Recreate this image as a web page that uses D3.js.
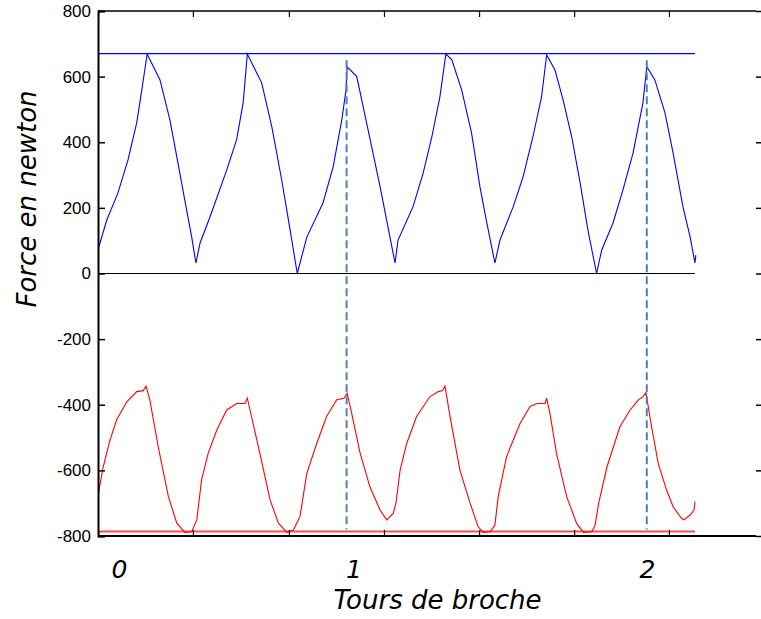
<!DOCTYPE html>
<html>
<head>
<meta charset="utf-8">
<script src="https://cdn.jsdelivr.net/npm/d3@7"></script>
<style>
  html, body { margin: 0; padding: 0; background: #fff; }
  svg { display: block; }
</style>
</head>
<body>
<script>
// ---- data (x in spindle turns, y in newtons) ----
const blueTurns = [0.172,0.200,0.237,0.271,0.300,0.317,0.335,0.378,0.411,0.438,0.467,0.484,0.498,0.512,0.545,0.601,0.634,0.656,0.670,0.718,0.752,0.785,0.813,0.837,0.869,0.923,0.957,0.986,1.000,1.004,1.036,1.074,1.114,1.147,1.164,1.174,1.224,1.258,1.287,1.314,1.334,1.354,1.387,1.420,1.448,1.471,1.498,1.515,1.559,1.592,1.625,1.654,1.671,1.699,1.726,1.755,1.783,1.809,1.838,1.855,1.893,1.926,1.960,1.993,2.006,2.033,2.067,2.094,2.127,2.151,2.167,2.170];
const blueForce = [77,163,245,346,459,559,669,590,468,337,193,111,32,93,172,315,407,520,669,581,447,285,133,0,111,215,325,468,559,630,600,437,265,111,32,102,203,306,416,538,669,651,559,428,264,154,32,102,203,294,416,538,666,620,529,416,276,133,0,71,154,254,367,520,630,590,489,367,203,111,32,56];

const redTurns = [0.172,0.188,0.211,0.233,0.267,0.300,0.322,0.331,0.344,0.372,0.406,0.434,0.462,0.484,0.501,0.517,0.539,0.568,0.601,0.634,0.662,0.670,0.679,0.712,0.746,0.774,0.802,0.824,0.846,0.869,0.902,0.935,0.969,0.993,1.004,1.019,1.047,1.080,1.114,1.136,1.158,1.167,1.181,1.203,1.236,1.281,1.309,1.323,1.331,1.348,1.381,1.415,1.442,1.459,1.482,1.498,1.509,1.537,1.582,1.615,1.638,1.666,1.671,1.682,1.704,1.738,1.771,1.794,1.822,1.833,1.845,1.873,1.916,1.950,1.978,1.993,2.003,2.022,2.044,2.072,2.094,2.122,2.130,2.151,2.164,2.167];
const redForce = [-670,-589,-507,-446,-391,-360,-357,-343,-385,-528,-680,-761,-789,-787,-751,-629,-548,-477,-416,-396,-396,-380,-416,-548,-690,-761,-789,-782,-741,-609,-518,-436,-385,-380,-365,-426,-547,-650,-721,-751,-731,-700,-599,-518,-436,-375,-360,-357,-343,-436,-599,-700,-772,-789,-787,-767,-680,-558,-457,-406,-396,-396,-380,-426,-548,-680,-761,-789,-787,-767,-700,-589,-467,-416,-385,-376,-363,-467,-578,-660,-711,-746,-751,-736,-721,-695];

const refLevels = [670, 0, -786];          // blue max, zero, red min
const refEnd = 2.167;                       // reference lines end (turns)
const markerTurns = [1.002, 2.006];         // dashed vertical markers
const markerRange = [650, -780];
const yTicks = [800,600,400,200,0,-200,-400,-600,-800];
const xTicks = [0.171,0.488,0.809,1.127,1.445,1.763,2.080];
const xLabels = [0, 1, 2];
const xLabelTurns = [0.2425, 1.027, 2.008];
const yTitle = "Force en newton";
const xTitle = "Tours de broche";

// ---- layout ----
const W = 761, H = 619;
const L = 98, R = 756, T = 11, B = 536;

const svg = d3.select("body").append("svg").attr("width", W).attr("height", H);

const x = d3.scaleLinear().domain([0.1706, 2.3712]).range([L, R]);
const y = d3.scaleLinear().domain([-800, 800]).range([B, T]);
const labelPos = d3.scaleLinear().domain(xLabels).range(xLabelTurns);

// reference horizontal lines
const refColors = ["#0000ff", "#000000", "#ff4d4d"];
const refWidths = [1.2, 1.2, 2];
svg.selectAll("line.ref").data(refLevels).enter().append("line")
  .attr("class", "ref")
  .attr("x1", x(0.1706)).attr("x2", x(refEnd))
  .attr("y1", d => y(d)).attr("y2", d => y(d))
  .attr("stroke", (d, i) => refColors[i])
  .attr("stroke-width", (d, i) => refWidths[i]);

// curves
const line = d3.line().x(d => x(d[0])).y(d => y(d[1]));
svg.append("path").datum(d3.zip(blueTurns, blueForce))
  .attr("d", line).attr("fill", "none").attr("stroke", "#0000ff").attr("stroke-width", 1.1);
svg.append("path").datum(d3.zip(redTurns, redForce))
  .attr("d", line).attr("fill", "none").attr("stroke", "#ff0000").attr("stroke-width", 1.1);

// dashed markers
svg.selectAll("line.marker").data(markerTurns).enter().append("line")
  .attr("class", "marker")
  .attr("x1", d => x(d)).attr("x2", d => x(d))
  .attr("y1", y(markerRange[0])).attr("y2", y(markerRange[1]))
  .attr("stroke", "#4f81bd").attr("stroke-width", 2)
  .attr("stroke-dasharray", "8,4");

// axes
const leftAxis = d3.axisLeft(y).tickValues(yTicks).tickSize(-7).tickPadding(14).tickFormat(d => String(d));
const gL = svg.append("g").attr("transform", `translate(${L},0)`).call(leftAxis);
gL.select(".domain").attr("stroke-width", 2);
gL.selectAll(".tick line").attr("stroke-width", 1.5);
gL.selectAll(".tick text")
  .attr("font-family", "'Liberation Sans', Arial, sans-serif")
  .attr("font-size", 17).attr("fill", "#000").attr("x", -7);

const rightAxis = d3.axisLeft(y).tickValues(yTicks).tickSize(5).tickFormat("");
const gR = svg.append("g").attr("transform", `translate(${R + 5},0)`).call(rightAxis);
gR.select(".domain").remove();
gR.selectAll(".tick line").attr("stroke-width", 1.5);

const bottomAxis = d3.axisBottom(x).tickValues(xTicks).tickSize(-6).tickFormat("");
const gB = svg.append("g").attr("transform", `translate(0,${B})`).call(bottomAxis);
gB.select(".domain").attr("stroke-width", 2).attr("d", `M${L},0H${R}`);
gB.selectAll(".tick line").attr("stroke-width", 1.2);

const topAxis = d3.axisTop(x).tickValues(xTicks).tickSize(-6).tickFormat("");
const gT = svg.append("g").attr("transform", `translate(0,${T})`).call(topAxis);
gT.select(".domain").attr("stroke-width", 1.5).attr("d", `M${L},0H${R}`);
gT.selectAll(".tick line").attr("stroke-width", 1.2);

// x labels
svg.selectAll("text.xl").data(xLabels).enter().append("text")
  .attr("class", "xl")
  .attr("x", d => x(labelPos(d))).attr("y", 578)
  .attr("text-anchor", "middle")
  .attr("font-family", "'DejaVu Sans', Verdana, sans-serif")
  .attr("font-style", "italic").attr("font-size", 25)
  .text(d => d);

// titles
svg.append("text").attr("x", (L + 695) / 2 + 41).attr("y", 609)
  .attr("text-anchor", "middle")
  .attr("font-family", "'DejaVu Sans', Verdana, sans-serif")
  .attr("font-style", "italic").attr("font-size", 26)
  .text(xTitle);

svg.append("text").attr("transform", `translate(36,${199}) rotate(-90)`)
  .attr("text-anchor", "middle")
  .attr("font-family", "'DejaVu Sans', Verdana, sans-serif")
  .attr("font-style", "italic").attr("font-size", 26)
  .text(yTitle);
</script>
</body>
</html>
